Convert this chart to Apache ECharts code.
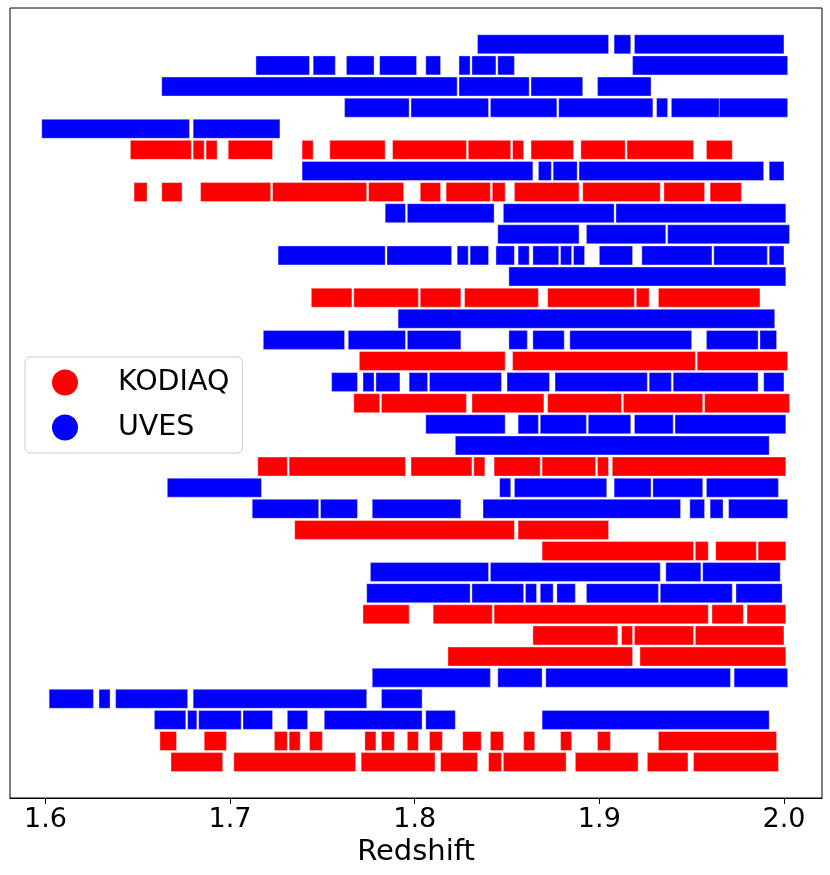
<!DOCTYPE html>
<html>
<head>
<meta charset="utf-8">
<script src="https://cdn.jsdelivr.net/npm/echarts@6/dist/echarts.min.js"></script>
<style>html,body{margin:0;padding:0;background:#fff;}#chart{width:830px;height:875px;}</style>
</head>
<body>
<div id="chart"></div>
<script>
// Survey per row (top to bottom): K = KODIAQ, U = UVES
const rowSurvey = ['U','U','U','U','U','K','U','K','U','U','U','U','K','U','U','K','U','K','U','U','K','U','U','K','K','U','U','K','K','K','U','U','U','K','K'];
// Redshift coverage segments per row [start, end]
const rowSegments = [
  [[1.834,1.905],[1.908,1.917],[1.919,2.000]],
  [[1.714,1.743],[1.745,1.757],[1.763,1.778],[1.781,1.801],[1.806,1.814],[1.824,1.830],[1.831,1.844],[1.845,1.854],[1.918,2.002]],
  [[1.663,1.823],[1.824,1.862],[1.863,1.891],[1.899,1.928]],
  [[1.762,1.797],[1.798,1.840],[1.841,1.877],[1.878,1.929],[1.931,1.937],[1.939,1.965],[1.965,2.002]],
  [[1.598,1.678],[1.680,1.727]],
  [[1.646,1.679],[1.680,1.686],[1.687,1.693],[1.699,1.723],[1.739,1.745],[1.754,1.784],[1.788,1.828],[1.829,1.852],[1.853,1.859],[1.863,1.886],[1.890,1.914],[1.915,1.951],[1.958,1.972]],
  [[1.739,1.864],[1.867,1.874],[1.875,1.888],[1.889,1.989],[1.992,2.000]],
  [[1.648,1.655],[1.663,1.674],[1.684,1.722],[1.723,1.774],[1.775,1.794],[1.803,1.814],[1.817,1.841],[1.842,1.849],[1.854,1.889],[1.891,1.933],[1.935,1.957],[1.960,1.977]],
  [[1.784,1.795],[1.796,1.843],[1.848,1.908],[1.909,2.001]],
  [[1.845,1.889],[1.893,1.936],[1.937,2.003]],
  [[1.726,1.784],[1.785,1.820],[1.823,1.829],[1.830,1.840],[1.844,1.854],[1.856,1.862],[1.864,1.878],[1.879,1.885],[1.886,1.892],[1.900,1.918],[1.923,1.961],[1.962,1.991],[1.992,2.000]],
  [[1.851,2.001]],
  [[1.744,1.766],[1.767,1.802],[1.803,1.825],[1.827,1.867],[1.872,1.919],[1.920,1.927],[1.932,1.987]],
  [[1.791,1.995]],
  [[1.718,1.762],[1.764,1.795],[1.796,1.825],[1.851,1.861],[1.864,1.881],[1.884,1.950],[1.958,1.986],[1.987,1.996]],
  [[1.770,1.849],[1.853,1.952],[1.953,2.002]],
  [[1.755,1.769],[1.772,1.778],[1.779,1.792],[1.797,1.807],[1.808,1.847],[1.850,1.873],[1.876,1.926],[1.927,1.939],[1.940,1.986],[1.989,2.000]],
  [[1.767,1.781],[1.782,1.828],[1.831,1.870],[1.872,1.912],[1.913,1.956],[1.957,2.003]],
  [[1.806,1.849],[1.856,1.867],[1.868,1.893],[1.894,1.917],[1.919,1.940],[1.941,2.001]],
  [[1.822,1.992]],
  [[1.715,1.731],[1.732,1.795],[1.798,1.831],[1.832,1.838],[1.843,1.868],[1.869,1.898],[1.899,1.905],[1.907,2.001]],
  [[1.666,1.717],[1.846,1.852],[1.854,1.904],[1.908,1.928],[1.929,1.956],[1.958,1.997]],
  [[1.712,1.748],[1.749,1.769],[1.777,1.825],[1.837,1.944],[1.949,1.957],[1.960,1.967],[1.970,2.002]],
  [[1.735,1.854],[1.856,1.905]],
  [[1.869,1.951],[1.952,1.959],[1.963,1.985],[1.986,2.001]],
  [[1.776,1.840],[1.841,1.933],[1.936,1.955],[1.956,1.998]],
  [[1.774,1.830],[1.831,1.859],[1.860,1.866],[1.868,1.875],[1.877,1.887],[1.893,1.932],[1.933,1.972],[1.974,1.999]],
  [[1.772,1.797],[1.810,1.842],[1.843,1.959],[1.961,1.978],[1.980,2.001]],
  [[1.864,1.910],[1.912,1.918],[1.919,1.951],[1.952,2.000]],
  [[1.818,1.918],[1.922,2.001]],
  [[1.777,1.841],[1.845,1.869],[1.871,1.971],[1.973,2.002]],
  [[1.602,1.626],[1.629,1.635],[1.638,1.677],[1.680,1.774],[1.782,1.804]],
  [[1.659,1.676],[1.677,1.682],[1.683,1.706],[1.707,1.723],[1.731,1.742],[1.751,1.804],[1.806,1.822],[1.869,1.992]],
  [[1.662,1.671],[1.686,1.698],[1.724,1.731],[1.732,1.738],[1.743,1.750],[1.773,1.779],[1.782,1.789],[1.796,1.802],[1.808,1.815],[1.826,1.836],[1.841,1.848],[1.859,1.865],[1.879,1.885],[1.899,1.906],[1.932,1.996]],
  [[1.668,1.696],[1.702,1.768],[1.771,1.811],[1.814,1.834],[1.840,1.847],[1.848,1.882],[1.887,1.921],[1.926,1.948],[1.951,1.997]]
];
const xTicks = [1.6, 1.7, 1.8, 1.9, 2.0];
const surveyNames = {K: 'KODIAQ', U: 'UVES'};
const surveyColors = {K: '#ff0000', U: '#0000ff'};

function buildData(code) {
  const out = [];
  rowSurvey.forEach((s, i) => {
    if (s !== code) return;
    rowSegments[i].forEach(seg => out.push([seg[0], seg[1], i]));
  });
  return out;
}

function renderItem(params, api) {
  const p0 = api.coord([api.value(0), api.value(2)]);
  const p1 = api.coord([api.value(1), api.value(2)]);
  const h = api.size([0, 1])[1] * 0.9;
  const rect = echarts.graphic.clipRectByRect(
    {x: p0[0], y: p0[1] - h / 2, width: p1[0] - p0[0], height: h},
    {x: params.coordSys.x, y: params.coordSys.y, width: params.coordSys.width, height: params.coordSys.height}
  );
  if (!rect) return;
  return {
    type: 'rect',
    shape: rect,
    style: {fill: api.visual('color'), stroke: 'rgba(255,255,255,0.45)', lineWidth: 0.8}
  };
}

const chart = echarts.init(document.getElementById('chart'), null, {renderer: 'canvas'});
const font = 'DejaVu Sans';
chart.setOption({
  animation: false,
  backgroundColor: '#ffffff',
  textStyle: {fontFamily: font},
  grid: {left: 10, right: 8, top: 8, bottom: 77, show: true, borderColor: '#000', borderWidth: 1, backgroundColor: 'transparent'},
  legend: {
    orient: 'vertical', left: 25, top: 357,
    data: [surveyNames.K, surveyNames.U],
    icon: 'circle', itemWidth: 26, itemHeight: 26, itemGap: 16,
    padding: [11, 13, 11, 27],
    borderColor: '#cccccc', borderWidth: 1, borderRadius: 5, backgroundColor: '#ffffff',
    textStyle: {fontSize: 28.5, color: '#000', fontFamily: font, padding: [0, 0, 0, 35]}
  },
  xAxis: {
    type: 'value', min: 1.5808, max: 2.0206,
    name: 'Redshift', nameLocation: 'middle', nameGap: 37,
    nameTextStyle: {fontSize: 29, color: '#000', fontFamily: font},
    axisLine: {show: true, onZero: false, lineStyle: {color: '#000', width: 1}},
    axisTick: {show: true, customValues: xTicks, length: 6, lineStyle: {color: '#000', width: 1}},
    axisLabel: {show: true, customValues: xTicks, fontSize: 27, color: '#000', margin: 8, fontFamily: font,
      formatter: v => Number(v).toFixed(1)},
    splitLine: {show: false}
  },
  yAxis: {
    type: 'value', min: -1.72, max: 35.7, inverse: true, show: false,
    splitLine: {show: false}
  },
  series: ['K', 'U'].map(code => ({
    name: surveyNames[code],
    type: 'custom',
    renderItem: renderItem,
    itemStyle: {color: surveyColors[code]},
    encode: {x: [0, 1], y: 2},
    data: buildData(code)
  }))
});
</script>
</body>
</html>
